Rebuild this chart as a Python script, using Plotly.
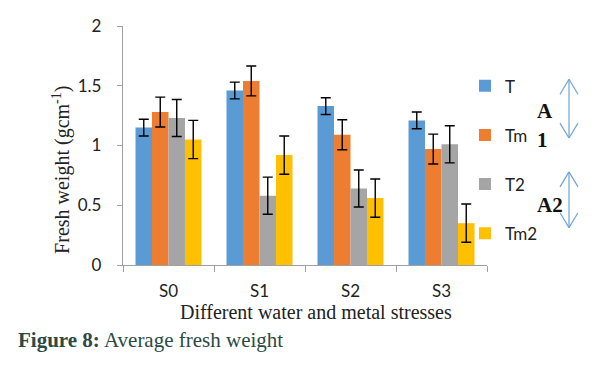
import plotly.graph_objects as go

categories = ["S0", "S1", "S2", "S3"]
series_names = ["T", "Tm", "T2", "Tm2"]
T = [1.15, 1.46, 1.33, 1.21]
Tm = [1.28, 1.54, 1.09, 0.97]
T2 = [1.23, 0.58, 0.64, 1.01]
Tm2 = [1.05, 0.92, 0.56, 0.35]
T_err = [0.07, 0.07, 0.07, 0.07]
Tm_err = [0.125, 0.125, 0.125, 0.125]
T2_err = [0.155, 0.155, 0.155, 0.155]
Tm2_err = [0.16, 0.16, 0.16, 0.16]
colors = ["#5B9BD5", "#ED7D31", "#A5A5A5", "#FFC000"]
y_ticks = [0, 0.5, 1, 1.5, 2]
y_tick_labels = ["0", "0.5", "1", "1.5", "2"]

values = [T, Tm, T2, Tm2]
errors = [T_err, Tm_err, T2_err, Tm2_err]

fig = go.Figure()
for name, vals, errs, col in zip(series_names, values, errors, colors):
    fig.add_trace(go.Bar(
        x=categories, y=vals, name=name, legendgroup=name,
        marker_color=col, marker_line_width=0,
        error_y=dict(type="data", array=errs, visible=True, color="black",
                     thickness=1.4, width=5),
    ))

# page offset (body margin) compensation
OFF = 8
W, H = 604, 373
L, R, T_, B = 123 - OFF, 117 + OFF, 25.5 - OFF, 107.5 + OFF
PW = W - L - R
PH = H - T_ - B

def px(x):
    return (x - OFF - L) / PW

def py(y):
    return (H - B - (y - OFF)) / PH

TICKFONT = dict(family="Lato, Open Sans, sans-serif", size=17, color="#222")

fig.update_layout(
    width=W, height=H,
    margin=dict(l=L, r=R, t=T_, b=B, autoexpand=False),
    paper_bgcolor="white", plot_bgcolor="white",
    barmode="group", bargap=0.275, bargroupgap=0,
    showlegend=True,
    legend=dict(x=px(465), y=py(68), xanchor="left", yanchor="top",
                font=dict(family="Lato, Open Sans, sans-serif", size=17, color="#222"),
                itemwidth=30, tracegroupgap=24,
                bgcolor="rgba(0,0,0,0)"),
    font=dict(family="Lato, Open Sans, sans-serif", color="#222"),
    xaxis=dict(showline=True, linecolor="#A0A0A0", linewidth=1.3,
               ticks="outside", tickson="boundaries", ticklen=6, tickcolor="#A0A0A0",
               ticklabelstandoff=10, tickfont=TICKFONT,
               showgrid=False, automargin=False),
    yaxis=dict(range=[0, 2], tickvals=y_ticks, ticktext=y_tick_labels,
               showline=True, linecolor="#A0A0A0", linewidth=1.3,
               ticks="outside", ticklen=5, tickcolor="#A0A0A0",
               ticklabelstandoff=12, tickfont=TICKFONT,
               showgrid=False, zeroline=False, automargin=False),
)

def ann(x, y, text, size, color="#222", angle=0, xanchor="center"):
    return dict(x=px(x), y=py(y), xref="paper", yref="paper", text=text,
                textangle=angle, showarrow=False, xanchor=xanchor, yanchor="middle",
                font=dict(family="Liberation Serif", size=size, color=color))

annotations = [
    ann(62, 170, "Fresh weight (gcm<sup>-1</sup>)", 20, angle=-90),
    ann(316, 313, "Different water and metal stresses", 20),
    ann(16, 341, "<b>Figure 8:</b> Average fresh weight", 21, color="#2B4A45", xanchor="left"),
    ann(545, 111, "<b>A</b>", 21, color="#111"),
    ann(542, 140, "<b>1</b>", 21, color="#111"),
    ann(550, 205, "<b>A2</b>", 21, color="#111"),
]
fig.update_layout(annotations=annotations)

shapes = []
arrow_col = "#6FA3D8"
for (ax, y0, y1) in [(569, 79, 138), (569, 172, 228)]:
    shapes.append(dict(type="line", xref="paper", yref="paper",
                       x0=px(ax), x1=px(ax), y0=py(y0), y1=py(y1),
                       line=dict(color=arrow_col, width=1.2)))
    for sx in (-9, 9):
        shapes.append(dict(type="line", xref="paper", yref="paper",
                           x0=px(ax), x1=px(ax + sx), y0=py(y0), y1=py(y0 + 15),
                           line=dict(color=arrow_col, width=1.2)))
        shapes.append(dict(type="line", xref="paper", yref="paper",
                           x0=px(ax), x1=px(ax + sx), y0=py(y1), y1=py(y1 - 15),
                           line=dict(color=arrow_col, width=1.2)))
fig.update_layout(shapes=shapes)

fig.write_html("out.html")
